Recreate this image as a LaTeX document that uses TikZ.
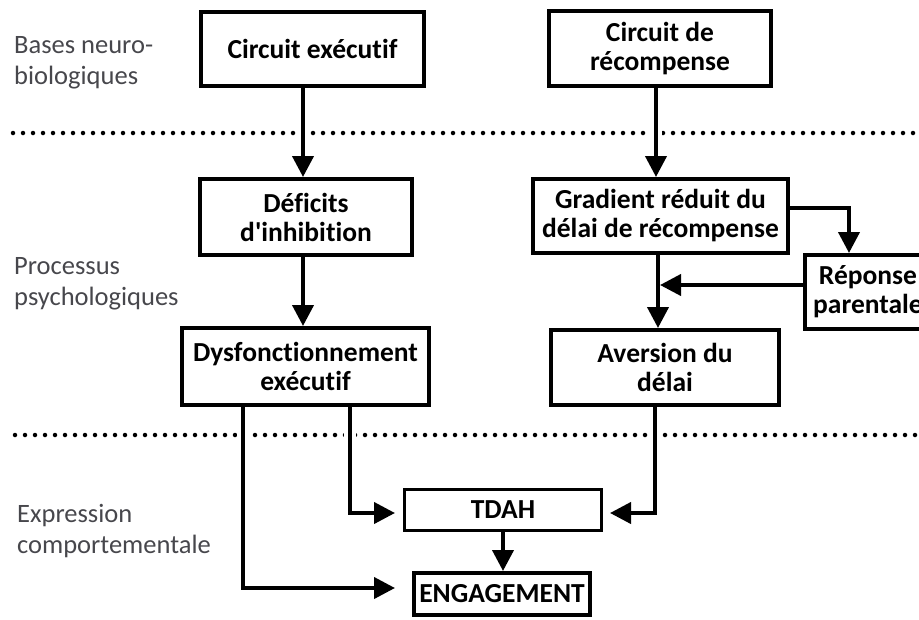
\documentclass[tikz,border=0pt]{standalone}
\usepackage{fontspec}
\setmainfont{Carlito}[Ligatures={TeXOff,NoCommon}]
\usetikzlibrary{arrows.meta}
\definecolor{labc}{rgb}{0.28,0.28,0.3}
\begin{document}
\begin{tikzpicture}[x=1pt,y=-1pt,
  box/.style={draw, line width=4pt, align=center, inner sep=0pt, font=\fontsize{27.5}{29}\selectfont\bfseries},
  lab/.style={anchor=west, align=left, text=labc, inner sep=0pt, font=\fontsize{26.5}{31}\selectfont},
  arr/.style={line width=4pt, -{Triangle[width=21pt,length=21pt]}},
  dots/.style={line width=4.5pt, line cap=round, dash pattern=on 0pt off 10pt},
  gap/.style={preaction={draw=white,line width=12pt,-}}
]
\useasboundingbox (0,0) rectangle (919,619);
\clip (0,0) rectangle (919,619);

% level labels
\node[lab] (L1) at (14,63) {Bases neuro-\\biologiques};
\node[lab] (L2) at (14,284) {Processus\\psychologiques};
\node[lab] (L3) at (17,531) {Expression\\comportementale};

% dotted separators
\draw[dots] (13,133) -- (919,133);
\draw[dots] (15,435) -- (919,435);

% boxes
\node[box, minimum width=223pt, minimum height=74pt] (CE) at (312.5,49) {Circuit exécutif};
\node[box, minimum width=222pt, minimum height=75pt] (CR) at (660,48.5) {Circuit de\\récompense};
\node[box, minimum width=212pt, minimum height=76pt] (DI) at (306,217) {Déficits\\d'inhibition};
\node[box, minimum width=255pt, minimum height=74pt] (GR) at (660.5,216) {Gradient réduit du\\délai de récompense};
\node[box, minimum width=126pt, minimum height=74pt] (RP) at (868,292) {Réponse\\parentale};
\node[box, minimum width=247pt, minimum height=77pt] (DY) at (305.5,366.5) {Dysfonctionnement\\exécutif};
\node[box, minimum width=228pt, minimum height=75pt] (AV) at (665,367.5) {Aversion du\\délai};
\node[box, line width=3pt, minimum width=197pt, minimum height=41pt] (TD) at (503,510) {TDAH};
\node[box, minimum width=176pt, minimum height=42pt] (EN) at (502,594) {ENGAGEMENT};

\coordinate (J) at (660,285);

% connectors
\draw[arr,gap] (CE.south -| 303,0) -- (DI.north -| 303,0);
\draw[arr,gap] (CR.south -| 656,0) -- (GR.north -| 656,0);
\draw[arr] (DI.south -| 303,0) -- (DY.north -| 303,0);
\draw[arr] (GR.south -| 658,0) -- (AV.north -| 658,0);
\draw[arr] (GR.east |- 0,208) -| (RP.north -| 849,0);
\draw[arr] (RP.west |- J) -- (J);
\draw[arr,gap] (DY.south -| 350,0) |- ([xshift=-8pt,yshift=-3pt]TD.west);
\draw[arr,gap] (DY.south -| 243,0) |- ([xshift=-17pt,yshift=6pt]EN.west);
\draw[arr,gap] (AV.south -| 655,0) |- ([xshift=7pt,yshift=-3pt]TD.east);
\draw[arr] (TD.south -| 503,0) -- (EN.north -| 503,0);
\end{tikzpicture}
\end{document}
